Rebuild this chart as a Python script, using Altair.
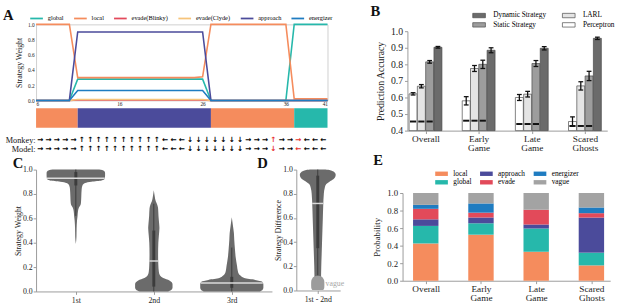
import json
import altair as alt
import pandas as pd
import numpy as np

FONT = "Liberation Serif"
ARROW_FONT = "DejaVu Sans"

# ---------------- Panel A : strategy weights over time ----------------
a_steps = [6, 7, 8, 9, 10, 11, 12, 13, 14, 15, 16, 17, 18, 19, 20, 21, 22, 23, 24, 25, 26,
           27, 28, 29, 30, 31, 32, 33, 34, 35, 36, 37, 38, 39, 40, 41]
a_global = [0, 0, 0, 0, 0,
            0.28, 0.28, 0.28, 0.28, 0.28, 0.28, 0.28, 0.28, 0.28, 0.28, 0.28, 0.28, 0.28, 0.28, 0.28, 0.28,
            0, 0, 0, 0, 0, 0, 0, 0, 0, 0,
            1.0, 1.0, 1.0, 1.0, 1.0]
a_local = [1.0, 1.0, 1.0, 1.0, 1.0,
           0.30, 0.30, 0.30, 0.30, 0.30, 0.30, 0.30, 0.30, 0.30, 0.30, 0.30, 0.30, 0.30, 0.30, 0.30, 0.31,
           1.0, 1.0, 1.0, 1.0, 1.0, 1.0, 1.0, 1.0, 1.0, 1.0,
           0.02, 0.02, 0.02, 0.02, 0.02]
a_blinky = [0, 0, 0, 0, 0,
            0.005, 0.005, 0.005, 0.005, 0.005, 0.005, 0.005, 0.005, 0.005, 0.005, 0.005, 0.005, 0.005, 0.005, 0.005, 0.005,
            0, 0, 0, 0, 0, 0, 0, 0, 0, 0,
            0, 0, 0, 0, 0]
a_clyde = [0, 0, 0, 0, 0,
           0.012, 0.012, 0.012, 0.012, 0.012, 0.012, 0.012, 0.012, 0.012, 0.012, 0.012, 0.012, 0.012, 0.012, 0.012, 0.012,
           0, 0, 0, 0, 0, 0, 0, 0, 0, 0,
           0, 0, 0, 0, 0]
a_approach = [0, 0, 0, 0, 0,
              0.9, 0.9, 0.9, 0.9, 0.9, 0.9, 0.9, 0.9, 0.9, 0.9, 0.9, 0.9, 0.9, 0.9, 0.9, 0.9,
              0, 0, 0, 0, 0, 0, 0, 0, 0, 0,
              0, 0, 0, 0, 0]
a_energizer = [0, 0, 0, 0, 0,
               0.13, 0.13, 0.13, 0.13, 0.13, 0.13, 0.13, 0.13, 0.13, 0.13, 0.13, 0.13, 0.13, 0.13, 0.13, 0.13,
               0, 0, 0, 0, 0, 0, 0, 0, 0, 0,
               0, 0, 0, 0, 0]
a_names = ["global", "local", "evade(Blinky)", "evade(Clyde)", "approach", "energizer"]
a_colors = ["#26b8ab", "#f58c5d", "#e34a5c", "#f6c47a", "#4b4b9b", "#1f7cc1"]

# dominant-strategy colour bar
seg_start = [6, 11, 27, 37]
seg_end = [11, 27, 37, 41]
seg_strategy = ["local", "approach", "local", "global"]

# action arrows (time steps 6..40)
arrow_steps = [6, 7, 8, 9, 10, 11, 12, 13, 14, 15, 16, 17, 18, 19, 20, 21, 22, 23, 24, 25,
               26, 27, 28, 29, 30, 31, 32, 33, 34, 35, 36, 37, 38, 39, 40]
monkey_moves = ["→", "→", "→", "→", "→", "↑", "↑", "↑", "↑", "↑", "↑", "↑", "↑", "↑", "↑",
                "←", "←", "←", "↓", "↓", "↓", "↓", "↓", "↓", "↓", "→", "→", "→", "↑", "→",
                "→", "→", "←", "←", "←"]
model_moves = ["→", "→", "→", "→", "→", "↑", "↑", "↑", "↑", "↑", "↑", "↑", "↑", "↑", "↑",
               "←", "←", "←", "↓", "↓", "↓", "↓", "↓", "↓", "↓", "→", "→", "→", "↓", "→",
               "→", "←", "←", "←", "←"]

# ---------------- Panel B : prediction accuracy ----------------
b_groups = ["Overall", "Early Game", "Late Game", "Scared Ghosts"]
b_models = ["Perceptron", "LARL", "Static Strategy", "Dynamic Strategy"]
acc_perceptron = [0.622, 0.580, 0.600, 0.455]
err_perceptron = [0.007, 0.025, 0.018, 0.028]
acc_larl = [0.668, 0.775, 0.620, 0.670]
err_larl = [0.010, 0.018, 0.017, 0.025]
acc_static = [0.815, 0.800, 0.805, 0.730]
err_static = [0.008, 0.025, 0.018, 0.028]
acc_dynamic = [0.903, 0.885, 0.897, 0.957]
err_dynamic = [0.005, 0.015, 0.010, 0.007]
chance_level = [0.455, 0.460, 0.440, 0.428]

# ---------------- Panel C / D : violins ----------------
v1_y = [0.39, 0.45, 0.52, 0.58, 0.62, 0.66, 0.69, 0.71, 0.73, 0.78, 0.84, 0.87, 0.89, 0.90, 0.91, 0.925, 0.95, 0.975, 0.99, 1.0]
v1_w = [0.0, 0.008, 0.01, 0.015, 0.022, 0.028, 0.04, 0.06, 0.066, 0.07, 0.075, 0.085, 0.12, 0.2, 0.33, 0.37, 0.375, 0.375, 0.36, 0.3]
v2_y = [0.0, 0.01, 0.03, 0.06, 0.09, 0.11, 0.13, 0.16, 0.22, 0.30, 0.40, 0.46, 0.52, 0.56, 0.62, 0.68, 0.71, 0.74, 0.78, 0.83]
v2_w = [0.18, 0.22, 0.24, 0.24, 0.2, 0.12, 0.08, 0.065, 0.058, 0.055, 0.058, 0.065, 0.072, 0.068, 0.06, 0.055, 0.045, 0.025, 0.012, 0.0]
v3_y = [0.0, 0.01, 0.03, 0.06, 0.08, 0.095, 0.11, 0.13, 0.16, 0.21, 0.28, 0.35, 0.42, 0.48, 0.54, 0.61]
v3_w = [0.36, 0.39, 0.405, 0.405, 0.39, 0.3, 0.16, 0.11, 0.08, 0.067, 0.05, 0.04, 0.032, 0.027, 0.015, 0.0]
c_labels = ["1st", "2nd", "3rd"]
c_median = [0.93, 0.25, 0.07]
c_whisk_lo = [0.62, 0.0, 0.0]
c_whisk_hi = [1.0, 0.72, 0.36]
c_q1 = [0.87, 0.04, 0.03]
c_q3 = [0.98, 0.50, 0.12]

d_y = [0.03, 0.1, 0.2, 0.3, 0.4, 0.5, 0.6, 0.7, 0.8, 0.85, 0.88, 0.9, 0.92, 0.94, 0.96, 0.98, 0.995, 1.0]
d_w = [0.04, 0.042, 0.045, 0.05, 0.055, 0.06, 0.065, 0.07, 0.078, 0.09, 0.11, 0.15, 0.2, 0.225, 0.23, 0.21, 0.16, 0.1]
vague_y = [0.005, 0.02, 0.05, 0.08, 0.1, 0.115, 0.125]
vague_w = [0.07, 0.083, 0.085, 0.083, 0.07, 0.045, 0.0]
d_median = 0.72
d_whisk = [0.1, 1.0]
d_iqr = [0.35, 0.95]

# ---------------- Panel E : strategy probabilities ----------------
e_groups = ["Overall", "Early Game", "Late Game", "Scared Ghosts"]
e_local = [0.425, 0.525, 0.330, 0.175]
e_global = [0.200, 0.130, 0.266, 0.145]
e_approach = [0.075, 0.066, 0.044, 0.400]
e_evade = [0.120, 0.055, 0.170, 0.050]
e_energizer = [0.045, 0.105, 0.000, 0.065]
e_vague = [0.135, 0.119, 0.190, 0.165]
e_legend_order = ["local", "approach", "energizer", "global", "evade", "vague"]
e_legend_colors = ["#f58c5d", "#4b4b9b", "#1f7cc1", "#26b8ab", "#e24a5a", "#a3a3a3"]

# ======================================================================
RECT = "M-1.3,-0.45L1.3,-0.45L1.3,0.45L-1.3,0.45Z"
AX = dict(labelFont=FONT, titleFont=FONT, grid=False, domainColor="#9a9a9a",
          tickColor="#9a9a9a", labelColor="#222", titleColor="#222", titleFontWeight="normal",
          labelOverlap=False)
TICKS01 = [0, 0.2, 0.4, 0.6, 0.8, 1.0]


def letter(t, dx, dy=0, offset=None):
    kw = dict(anchor="start", frame="group", dx=dx, dy=dy, fontSize=15,
              font=FONT, fontWeight="bold", color="#111")
    if offset is not None:
        kw["offset"] = offset
    return alt.TitleParams(t, **kw)


def spacer(w, h, title=None):
    ch = alt.Chart(pd.DataFrame({"s": [0, 1]})).mark_point(opacity=0, size=1).encode(
        x=alt.X("s:Q", axis=None, scale=alt.Scale(domain=[0, 1], nice=False)),
        y=alt.Y("s:Q", axis=None, scale=alt.Scale(domain=[0, 1], nice=False)))
    if title is not None:
        return ch.properties(width=w, height=h, title=title)
    return ch.properties(width=w, height=h)


# ---- A
A_W = 299
rows = []
for name, vals in zip(a_names, [a_global, a_local, a_blinky, a_clyde, a_approach, a_energizer]):
    for s, v in zip(a_steps, vals):
        rows.append({"step": s, "strategy": name, "weight": v, "k": a_names.index(name)})
a_df = pd.DataFrame(rows)

xa = alt.Scale(domain=[6, 41], nice=False, zero=False)
a_line = alt.Chart(a_df).mark_line(strokeWidth=1.6).encode(
    x=alt.X("step:Q", scale=xa, axis=alt.Axis(values=[6, 16, 26, 36, 41], title=None, labelFontSize=5.5,
                                              tickSize=0, labelPadding=1, domain=False, **AX)),
    y=alt.Y("weight:Q", scale=alt.Scale(domain=[0, 1], nice=False),
            axis=alt.Axis(values=TICKS01, format=".1f", title="Strategy Weight",
                          labelFontSize=5.5, titleFontSize=8, tickSize=0, labelPadding=2, domain=False,
                          titlePadding=4, **AX)),
    color=alt.Color("strategy:N", scale=alt.Scale(domain=a_names, range=a_colors),
                    legend=alt.Legend(orient="none", legendX=-7, legendY=-14, direction="horizontal",
                                      columns=6, title=None, symbolType="stroke", symbolSize=169,
                                      symbolStrokeWidth=1.8, labelFontSize=6.5, labelFont=FONT,
                                      columnPadding=6, labelOffset=4, padding=0, labelLimit=200)),
    order=alt.Order("k:Q"),
).properties(width=A_W, height=78, view=alt.ViewBackground(stroke="#cfcfcf"),
             title=letter("A", -34, 16))

seg_df = pd.DataFrame({"start": seg_start, "end": seg_end, "strategy": seg_strategy})
a_bar = alt.Chart(seg_df).mark_rect().encode(
    x=alt.X("start:Q", scale=xa, axis=None), x2="end:Q",
    color=alt.Color("strategy:N", scale=alt.Scale(domain=a_names, range=a_colors), legend=None),
).properties(width=A_W, height=20)

arr_rows = []
for s, m, d in zip(arrow_steps, monkey_moves, model_moves):
    col = "#000000" if m == d else "#e8322e"
    arr_rows.append({"pos": s + 0.5, "row": "Monkey:", "arrow": m, "col": col})
    arr_rows.append({"pos": s + 0.5, "row": "Model:", "arrow": d, "col": col})
arr_df = pd.DataFrame(arr_rows)
a_arrows = alt.Chart(arr_df).mark_text(fontSize=7.5, font=ARROW_FONT, fontWeight="bold").encode(
    x=alt.X("pos:Q", scale=xa, axis=None),
    y=alt.Y("row:N", sort=["Monkey:", "Model:"],
            axis=alt.Axis(title=None, domain=False, ticks=False, labelFontSize=8.5, labelPadding=1,
                          labelFont=FONT, labelColor="#111")),
    text="arrow:N",
    color=alt.Color("col:N", scale=None),
).properties(width=A_W, height=18)

A_stack = alt.vconcat(a_line, a_bar, a_arrows, spacing=8, bounds="flush").resolve_scale(color="independent")

# ---- B
b_acc = [acc_perceptron, acc_larl, acc_static, acc_dynamic]
b_err = [err_perceptron, err_larl, err_static, err_dynamic]
b_off = [-0.234, -0.078, 0.078, 0.234]
HW = 0.075
brow = []
for mi, mname in enumerate(b_models):
    for gi in range(len(b_groups)):
        xc = gi + b_off[mi]
        brow.append({"model": mname, "xc": xc, "x0": xc - HW, "x1": xc + HW,
                     "acc": b_acc[mi][gi], "lo": b_acc[mi][gi] - b_err[mi][gi],
                     "hi": b_acc[mi][gi] + b_err[mi][gi], "cl": xc - 0.045, "cr": xc + 0.045,
                     "base": 0.4})
b_df = pd.DataFrame(brow)
crow = []
for gi in range(len(b_groups)):
    for mi in range(3):
        xc = gi + b_off[mi]
        crow.append({"c0": xc - 0.058, "c1": xc + 0.058, "chance": chance_level[gi]})
c_df = pd.DataFrame(crow)

xb = alt.Scale(domain=[-0.34, 3.42], nice=False, zero=False)
yb = alt.Scale(domain=[0.4, 1.0], nice=False, zero=False)
grp_expr = "split(" + json.dumps(b_groups) + "[round(datum.value)], ' ')"
xb_axis = alt.Axis(values=[0, 1, 2, 3], labelExpr=grp_expr, title=None, labelFontSize=9.5,
                   labelLineHeight=9, tickSize=3, labelPadding=0, **AX)
yb_axis = alt.Axis(values=[0.4, 0.5, 0.6, 0.7, 0.8, 0.9, 1.0], format=".1f", title="Prediction Accuracy",
                   labelFontSize=10, titleFontSize=10, tickSize=3, titlePadding=5, **AX)


def bx(f):
    return alt.X(f, scale=xb, axis=xb_axis)


def by(f):
    return alt.Y(f, scale=yb, axis=yb_axis)


b_bars = alt.Chart(b_df).mark_bar(stroke="#4a4a4a", strokeWidth=0.7).encode(
    x=bx("x0:Q"), x2="x1:Q", y=by("acc:Q"), y2="base:Q",
    color=alt.Color("model:N",
                    scale=alt.Scale(domain=["Dynamic Strategy", "LARL", "Static Strategy", "Perceptron"],
                                    range=["#6b6b6b", "#e4e4e4", "#9d9d9d", "#ffffff"]),
                    legend=alt.Legend(orient="none", legendX=68, legendY=-22, columns=2, title=None,
                                      direction="horizontal",
                                      symbolType=RECT, symbolSize=100, symbolStrokeColor="#4a4a4a",
                                      symbolStrokeWidth=0.7, labelFontSize=7.5, labelFont=FONT,
                                      columnPadding=14, rowPadding=0, labelOffset=9, padding=0)),
)
b_err_rule = alt.Chart(b_df).mark_rule(color="#111", strokeWidth=1.3).encode(
    x=bx("xc:Q"), y=by("lo:Q"), y2="hi:Q")
b_cap_lo = alt.Chart(b_df).mark_rule(color="#111", strokeWidth=1.3).encode(
    x=bx("cl:Q"), x2="cr:Q", y=by("lo:Q"))
b_cap_hi = alt.Chart(b_df).mark_rule(color="#111", strokeWidth=1.3).encode(
    x=bx("cl:Q"), x2="cr:Q", y=by("hi:Q"))
b_chance = alt.Chart(c_df).mark_rule(color="#111", strokeWidth=2).encode(
    x=bx("c0:Q"), x2="c1:Q", y=by("chance:Q"))
B = alt.layer(b_bars, b_err_rule, b_cap_lo, b_cap_hi, b_chance).properties(width=205, height=102)
B_stack = alt.vconcat(spacer(205, 1, letter("B", -38, 0, 5)), B, spacing=6,
                      bounds="flush").resolve_scale(color="independent")

# ---- C
vrows = []
for ci, (ys, ws) in enumerate([(v1_y, v1_w), (v2_y, v2_w), (v3_y, v3_w)]):
    for y, w in zip(ys, ws):
        vrows.append({"vid": ci, "y": y, "xl": ci - w, "xr": ci + w})
v_df = pd.DataFrame(vrows)
stat_rows = []
for ci, (ys, ws) in enumerate([(v1_y, v1_w), (v2_y, v2_w), (v3_y, v3_w)]):
    mw = float(np.interp(c_median[ci], ys, ws))
    stat_rows.append({"c": ci, "med": c_median[ci], "ml": ci - mw, "mr": ci + mw,
                      "lo": c_whisk_lo[ci], "hi": c_whisk_hi[ci], "q1": c_q1[ci], "q3": c_q3[ci]})
s_df = pd.DataFrame(stat_rows)

xc_scale = alt.Scale(domain=[-0.51, 2.515], nice=False, zero=False)
y01 = alt.Scale(domain=[0, 1], nice=False)
yc_axis = alt.Axis(values=TICKS01, format=".1f", title="Strategy Weight",
                   labelFontSize=8, titleFontSize=8, tickSize=3, labelPadding=1, titlePadding=0, **AX)
c_expr = json.dumps(c_labels) + "[round(datum.value)]"
xc_axis = alt.Axis(values=[0, 1, 2], labelExpr=c_expr, title=None, labelFontSize=8, tickSize=3, **AX)


def cx(f):
    return alt.X(f, scale=xc_scale, axis=xc_axis)


def cy(f):
    return alt.Y(f, scale=y01, axis=yc_axis)


c_area = alt.Chart(v_df).mark_area(orient="horizontal", interpolate="monotone", color="#6b6b6b").encode(
    y=cy("y:Q"), x=cx("xl:Q"), x2="xr:Q", detail="vid:N")
c_wh = alt.Chart(s_df).mark_rule(color="#3c3c3c", strokeWidth=1).encode(x=cx("c:Q"), y=cy("lo:Q"), y2="hi:Q")
c_iqr = alt.Chart(s_df).mark_rule(color="#3c3c3c", strokeWidth=3).encode(x=cx("c:Q"), y=cy("q1:Q"), y2="q3:Q")
c_med = alt.Chart(s_df).mark_rule(color="#dadada", strokeWidth=1.5).encode(
    x=cx("ml:Q"), x2="mr:Q", y=cy("med:Q"))
C = alt.layer(c_area, c_wh, c_iqr, c_med).properties(width=242, height=125, title=letter("C", -24, 9))

# ---- D
d_df = pd.DataFrame({"y": d_y, "xl": [-w for w in d_w], "xr": d_w})
vg_df = pd.DataFrame({"y": vague_y, "xl": [-w for w in vague_w], "xr": vague_w})
dm_w = float(np.interp(d_median, d_y, d_w))
ds_df = pd.DataFrame({"c": [0], "med": [d_median], "ml": [-dm_w], "mr": [dm_w], "lo": [d_whisk[0]],
                      "hi": [d_whisk[1]], "q1": [d_iqr[0]], "q3": [d_iqr[1]]})
txt_df = pd.DataFrame({"x": [0.1], "y": [0.05], "t": ["vague"]})
xd_scale = alt.Scale(domain=[-0.275, 0.2875], nice=False, zero=False)
yd_axis = alt.Axis(values=TICKS01, format=".1f", title="Strategy Difference",
                   labelFontSize=8, titleFontSize=8, tickSize=3, labelPadding=1, titlePadding=0, **AX)
xd_axis = alt.Axis(values=[0], labelExpr="'1st - 2nd'", title=None, labelFontSize=8, tickSize=3, **AX)


def dx_(f):
    return alt.X(f, scale=xd_scale, axis=xd_axis)


def dy_(f):
    return alt.Y(f, scale=y01, axis=yd_axis)


d_area = alt.Chart(d_df).mark_area(orient="horizontal", interpolate="monotone", color="#6b6b6b").encode(
    y=dy_("y:Q"), x=dx_("xl:Q"), x2="xr:Q")
d_wh = alt.Chart(ds_df).mark_rule(color="#3c3c3c", strokeWidth=1).encode(x=dx_("c:Q"), y=dy_("lo:Q"), y2="hi:Q")
d_iq = alt.Chart(ds_df).mark_rule(color="#3c3c3c", strokeWidth=3).encode(x=dx_("c:Q"), y=dy_("q1:Q"), y2="q3:Q")
d_vague = alt.Chart(vg_df).mark_area(orient="horizontal", interpolate="monotone", color="#9c9c9c").encode(
    y=dy_("y:Q"), x=dx_("xl:Q"), x2="xr:Q")
d_med = alt.Chart(ds_df).mark_rule(color="#dadada", strokeWidth=1.5).encode(
    x=dx_("ml:Q"), x2="mr:Q", y=dy_("med:Q"))
d_txt = alt.Chart(txt_df).mark_text(align="left", baseline="middle", fontSize=8, font=FONT,
                                    color="#a8a8a8").encode(x=dx_("x:Q"), y=dy_("y:Q"), text="t:N")
D = alt.layer(d_area, d_wh, d_iq, d_vague, d_med, d_txt).properties(
    width=45, height=124, title=letter("D", -40, 9))

# ---- E
e_stack_order = ["local", "global", "approach", "evade", "energizer", "vague"]
e_vals = {"local": e_local, "global": e_global, "approach": e_approach, "evade": e_evade,
          "energizer": e_energizer, "vague": e_vague}
erow = []
for gi in range(len(e_groups)):
    cum = 0.0
    for s in e_stack_order:
        v = e_vals[s][gi]
        erow.append({"strategy": s, "x0": gi - 0.23, "x1": gi + 0.23, "y0": cum, "y1": cum + v})
        cum += v
e_df = pd.DataFrame(erow)
xe = alt.Scale(domain=[-0.42, 3.34], nice=False, zero=False)
e_expr = "split(" + json.dumps(e_groups) + "[round(datum.value)], ' ')"
E = alt.Chart(e_df).mark_bar().encode(
    x=alt.X("x0:Q", scale=xe, axis=alt.Axis(values=[0, 1, 2, 3], labelExpr=e_expr, title=None,
                                             labelFontSize=9.5, labelLineHeight=9.5, tickSize=3,
                                             labelPadding=0, **AX)),
    x2="x1:Q",
    y=alt.Y("y0:Q", scale=y01, axis=alt.Axis(values=TICKS01, format=".1f",
                                             title="Probability", labelFontSize=9, titleFontSize=9,
                                             tickSize=3, titlePadding=5, **AX)),
    y2="y1:Q",
    color=alt.Color("strategy:N", scale=alt.Scale(domain=e_legend_order, range=e_legend_colors),
                    legend=alt.Legend(orient="none", legendX=35, legendY=-25, columns=3, title=None,
                                      direction="horizontal",
                                      symbolType=RECT, symbolSize=100, symbolStrokeWidth=0,
                                      labelFontSize=7.5, labelFont=FONT, columnPadding=8,
                                      rowPadding=0, labelOffset=7, padding=0)),
).properties(width=213, height=90)
E_stack = alt.vconcat(spacer(213, 4, letter("E", -30, 0, 1)), E, spacing=20,
                      bounds="flush").resolve_scale(color="independent")

CD = alt.hconcat(C, D, spacing=25, bounds="flush").resolve_scale(color="independent")

top_row = alt.hconcat(A_stack, B_stack, spacing=37).resolve_scale(color="independent")
bottom_row = alt.hconcat(CD, E_stack, spacing=28).resolve_scale(color="independent")

chart = alt.vconcat(top_row, bottom_row, spacing=0).resolve_scale(
    color="independent").properties(padding={"left": 2, "top": 0, "right": 2, "bottom": 2}).configure(
    font=FONT, background="white").configure_view(stroke=None)

chart.save("out.html", embed_options={"renderer": "svg", "actions": False})
